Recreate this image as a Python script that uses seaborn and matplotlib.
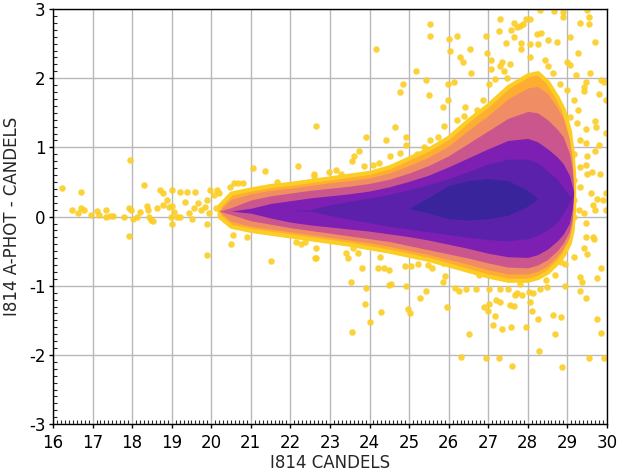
import numpy as np
import pandas as pd
import matplotlib
matplotlib.use("Agg")
import matplotlib.pyplot as plt
from matplotlib.ticker import MultipleLocator
from matplotlib.colors import to_rgb
import seaborn as sns

# ---------------- data ----------------
# density envelopes of the main cloud, per magnitude column (lower / upper)
band_mag = [20.2, 20.5, 21.0, 21.5, 22.0, 22.5, 23.0, 23.5, 24.0, 24.5, 25.0, 25.5,
            26.0, 26.5, 27.0, 27.5, 28.0, 28.25, 28.5, 28.75, 28.9, 29.05, 29.12, 29.16]
outer_lo = [0.00, -0.14, -0.20, -0.24, -0.28, -0.32, -0.36, -0.40, -0.45, -0.50, -0.56, -0.62,
            -0.70, -0.78, -0.86, -0.92, -0.92, -0.88, -0.80, -0.66, -0.55, -0.38, -0.20, 0.10]
outer_hi = [0.16, 0.34, 0.40, 0.45, 0.48, 0.52, 0.56, 0.60, 0.64, 0.72, 0.85, 0.98,
            1.15, 1.40, 1.62, 1.88, 2.05, 2.08, 1.95, 1.72, 1.55, 1.25, 0.95, 0.60]
mid_lo = [0.07, -0.07, -0.14, -0.18, -0.22, -0.26, -0.30, -0.34, -0.38, -0.43, -0.49, -0.55,
          -0.62, -0.69, -0.77, -0.83, -0.83, -0.79, -0.71, -0.57, -0.46, -0.30, -0.12, 0.20]
mid_hi = [0.09, 0.25, 0.33, 0.38, 0.41, 0.45, 0.49, 0.52, 0.56, 0.63, 0.74, 0.86,
          1.02, 1.25, 1.46, 1.70, 1.86, 1.88, 1.78, 1.57, 1.42, 1.13, 0.85, 0.50]
magenta_lo = [0.08, 0.03, -0.06, -0.11, -0.16, -0.20, -0.24, -0.28, -0.32, -0.36, -0.42, -0.48,
              -0.54, -0.60, -0.67, -0.73, -0.74, -0.70, -0.62, -0.49, -0.38, -0.22, -0.04, 0.30]
magenta_hi = [0.08, 0.13, 0.24, 0.30, 0.34, 0.38, 0.41, 0.44, 0.48, 0.54, 0.63, 0.74,
              0.88, 1.06, 1.24, 1.42, 1.52, 1.50, 1.40, 1.26, 1.15, 0.92, 0.70, 0.40]
purple_lo = [0.08, 0.08, 0.05, -0.02, -0.08, -0.12, -0.15, -0.18, -0.21, -0.25, -0.29, -0.34,
             -0.40, -0.46, -0.53, -0.58, -0.59, -0.55, -0.47, -0.35, -0.25, -0.10, 0.10, 0.35]
purple_hi = [0.08, 0.08, 0.12, 0.19, 0.23, 0.27, 0.30, 0.33, 0.37, 0.43, 0.51, 0.60,
             0.72, 0.85, 0.98, 1.10, 1.13, 1.08, 0.98, 0.86, 0.76, 0.60, 0.45, 0.35]
indigo_lo = [0.08, 0.08, 0.08, 0.08, 0.09, 0.08, 0.02, -0.04, -0.09, -0.14, -0.18, -0.22,
             -0.26, -0.30, -0.33, -0.35, -0.32, -0.27, -0.19, -0.08, 0.05, 0.20, 0.30, 0.35]
indigo_hi = [0.08, 0.08, 0.08, 0.08, 0.09, 0.10, 0.17, 0.22, 0.27, 0.32, 0.39, 0.46,
             0.55, 0.65, 0.76, 0.83, 0.83, 0.78, 0.66, 0.54, 0.42, 0.30, 0.30, 0.35]
core_lo = [0.08, 0.08, 0.08, 0.08, 0.09, 0.09, 0.10, 0.10, 0.10, 0.11, 0.12, 0.05,
           -0.03, -0.05, -0.03, 0.02, 0.15, 0.26, 0.26, 0.26, 0.26, 0.30, 0.30, 0.35]
core_hi = [0.08, 0.08, 0.08, 0.08, 0.09, 0.09, 0.10, 0.10, 0.10, 0.11, 0.12, 0.28,
           0.45, 0.52, 0.55, 0.52, 0.38, 0.26, 0.26, 0.26, 0.26, 0.30, 0.30, 0.35]

# sparse individual sources outside the dense cloud
outlier_mag = [
    16.22, 16.47, 16.63, 16.70, 16.70, 16.78, 16.97, 17.12, 17.17, 17.34, 17.34, 17.43, 17.51,
    17.79, 17.92, 17.94, 17.92, 17.98, 18.01, 18.13, 18.20, 18.30, 18.37, 18.39, 18.42, 18.47,
    18.52, 18.64, 18.70, 18.77, 18.77, 18.87, 18.92, 18.97, 19.00, 19.00, 19.00, 19.06, 19.14,
    19.22, 19.22, 19.34, 19.39, 19.44, 19.52, 19.56, 19.59, 19.66, 19.73, 19.83, 19.88, 19.88,
    19.94, 19.98, 20.07, 20.15, 20.20, 20.11, 20.47, 20.57, 20.67, 20.81, 21.05, 21.35, 21.67,
    22.19, 22.59, 20.55, 20.91, 19.89, 20.49, 21.50, 22.13, 22.26, 22.38, 22.63, 22.66,
    # lower right
    22.64, 23.40, 23.45, 23.58, 23.70, 23.82, 23.90, 23.89, 24.01, 24.28, 23.52, 23.55, 24.21,
    24.26, 24.36, 24.49, 24.49, 24.545, 24.93, 24.97, 25.03, 25.27, 25.42, 24.90, 25.05, 25.22,
    25.49, 25.57, 25.87, 25.92, 25.96, 25.86, 26.16, 26.26, 26.43, 26.51, 26.30, 26.68, 26.77,
    26.90, 26.94, 26.99, 27.02, 27.02, 27.12, 27.19, 27.17, 27.31, 27.34, 27.27, 27.29, 27.41,
    27.49, 27.56, 27.575, 27.59, 27.64, 27.68, 27.73, 27.81, 27.86, 27.95, 28.05, 28.03, 28.13,
    28.11, 28.265, 28.28, 28.32, 28.48, 28.45, 28.65, 28.70, 28.70, 28.85, 28.87, 28.94, 29.17,
    29.33, 29.31, 29.46, 29.38, 29.76, 29.85, 29.93, 29.54, 29.76, 29.86, 29.68, 29.46, 28.95,
    28.85, 29.41, 29.51,
    # upper right
    22.66, 24.16, 25.52, 25.52, 25.17, 24.85, 24.76, 25.44, 25.50, 26.01, 26.03, 26.21, 26.28,
    26.36, 26.53, 26.565, 25.98, 26.13, 25.86, 25.98, 26.94, 26.97, 27.07, 27.07, 27.31, 27.27,
    27.34, 27.39, 27.44, 27.58, 27.64, 27.74, 27.81, 27.88, 27.95, 28.05, 28.30, 27.83, 28.05,
    28.23, 28.33, 28.52, 28.75, 28.67, 28.90, 28.89, 29.31, 29.56, 29.56, 29.51, 29.70, 29.06,
    29.28, 28.99, 29.07, 29.85, 29.93, 29.98, 29.97, 29.81, 29.70, 29.73, 29.70, 29.81, 29.58,
    29.46, 29.41, 29.43, 29.46, 29.48, 29.51, 29.46, 29.49, 29.63, 29.83, 29.61, 29.97, 29.91,
    29.98, 29.66, 29.75, 29.70, 29.46, 29.66, 23.90, 24.41, 24.65, 24.92, 24.92, 24.76, 24.83,
    23.60, 23.74, 23.55, 23.85, 24.09, 24.24, 23.15, 22.98, 23.27, 22.59,
    27.64, 27.84, 28.06, 28.25, 28.43, 28.50, 28.65, 28.82, 28.99, 29.21, 29.16, 29.28, 29.07,
    28.99, 29.24, 29.33, 29.16, 29.33, 29.16, 29.33, 29.16, 29.29, 29.16, 29.41,
    27.17, 27.31, 27.47, 27.54, 27.02, 26.87, 26.72, 26.41, 26.38, 26.21, 25.89, 25.72, 25.52,
    25.37, 25.20, 25.03, 24.51, 24.56,
]
outlier_diff = [
    0.42, 0.10, 0.05, 0.35, 0.12, 0.10, 0.02, 0.08, 0.02, 0.10, 0.00, 0.01, 0.01,
    -0.01, 0.12, 0.82, -0.28, 0.09, -0.03, 0.00, 0.07, 0.46, 0.15, 0.10, 0.00, -0.05,
    -0.07, 0.13, 0.38, 0.34, 0.17, 0.24, 0.14, -0.01, 0.38, -0.10, 0.15, 0.07, 0.00,
    0.00, 0.35, 0.21, 0.35, 0.05, -0.03, 0.12, 0.35, 0.20, 0.09, 0.14, 0.24, -0.10,
    0.05, 0.38, 0.31, 0.38, 0.34, 0.12, 0.43, 0.49, 0.48, 0.49, 0.70, 0.66, 0.50,
    0.73, 0.58, -0.26, -0.30, -0.56, -0.39, -0.64, -0.37, -0.39, -0.37, -0.60, -0.45,
    # lower right
    -0.60, -0.52, -0.60, -0.46, -0.52, -0.74, -1.03, -1.27, -1.53, -1.38, -0.94, -1.67, -0.75,
    -0.59, -0.75, -0.77, -0.99, -0.97, -1.00, -1.34, -1.40, -1.18, -1.07, -0.71, -0.71, -0.68,
    -0.70, -0.75, -0.94, -0.86, -1.31, -0.67, -1.03, -1.07, -1.04, -1.70, -2.03, -1.05, -0.85,
    -1.31, -2.05, -1.36, -1.26, -1.04, -1.56, -1.21, -1.43, -1.23, -1.62, -2.04, -1.04, -0.89,
    -1.04, -1.28, -1.60, -2.16, -1.29, -1.13, -1.11, -0.98, -1.13, -1.60, -1.24, -1.09, -1.10,
    -1.36, -1.48, -1.94, -1.05, -1.02, -0.92, -1.42, -1.70, -0.84, -1.45, -2.17, -1.01, -0.58,
    -0.88, -1.08, -1.18, -0.94, -1.48, -1.68, -2.05, -2.05, -0.89, -0.75, -0.32, -0.30, -0.68,
    -0.65, -0.46, -0.54,
    # upper right
    1.31, 2.42, 2.79, 2.61, 2.11, 1.92, 1.80, 1.97, 1.76, 2.56, 2.40, 2.61, 2.30,
    2.24, 2.42, 2.08, 1.92, 1.94, 1.59, 1.68, 2.61, 2.37, 2.27, 2.13, 2.86, 2.68,
    2.24, 2.10, 2.51, 2.70, 2.80, 2.74, 2.76, 2.78, 2.85, 2.86, 2.98, 2.51, 2.50,
    2.64, 2.65, 2.55, 2.53, 2.97, 2.96, 2.88, 2.80, 2.89, 2.78, 2.98, 2.53, 2.60,
    2.37, 2.24, 2.19, 1.97, 1.94, 1.68, 1.21, 1.77, 1.38, 1.30, 0.95, 1.03, 2.07,
    1.95, 1.87, 1.82, 1.27, 1.06, 0.88, 0.74, 0.62, 0.64, 0.62, 0.34, 0.34, 0.24,
    0.10, 0.17, 0.26, 0.10, -0.09, -0.30, 1.15, 1.11, 1.29, 1.15, 1.03, 0.92, 0.78,
    0.88, 0.95, 0.81, 0.73, 0.75, 0.77, 0.68, 0.65, 0.62, 0.61,
    2.60, 2.42, 2.31, 2.50, 2.27, 2.18, 2.07, 1.92, 1.83, 2.04, 1.68, 1.54, 1.44,
    1.15, 1.35, 1.11, 0.91, 0.72, 0.53, 0.43, 0.24, 0.10, 0.00, 0.05,
    1.99, 2.17, 2.01, 2.21, 1.92, 1.68, 1.54, 1.58, 1.46, 1.40, 1.31, 1.15, 1.11,
    1.01, 0.91, 0.77, 0.87, 0.72,
]

x_ticks = [16, 17, 18, 19, 20, 21, 22, 23, 24, 25, 26, 27, 28, 29, 30]
y_ticks = [-3, -2, -1, 0, 1, 2, 3]

# ---------------- figure ----------------
sns.set_style("white")
plt.rcParams["font.family"] = ["DejaVu Sans"]
plt.rcParams["axes.unicode_minus"] = False

fig = plt.figure(figsize=(6.18, 4.75), dpi=100)
ax = fig.add_axes([0.0858, 0.107, 0.8962, 0.874])

cmap = plt.get_cmap("plasma")


def soft(v, w=0.12):
    r, g, b = to_rgb(cmap(v))
    return (r + (1 - r) * w, g + (1 - g) * w, b + (1 - b) * w)


pts = pd.DataFrame({"mag": outlier_mag, "diff": outlier_diff})
sns.scatterplot(data=pts, x="mag", y="diff", color=cmap(0.9), s=22, alpha=0.9,
                linewidth=0, ax=ax, zorder=2)

ax.fill_between(band_mag, outer_lo, outer_hi, facecolor=cmap(0.82),
                edgecolor=cmap(0.9), linewidth=3, zorder=3)
layers = [(mid_lo, mid_hi, 0.68), (magenta_lo, magenta_hi, 0.47),
          (purple_lo, purple_hi, 0.2), (indigo_lo, indigo_hi, 0.11),
          (core_lo, core_hi, 0.03)]
for lo, hi, c in layers:
    ax.fill_between(band_mag, lo, hi, color=soft(c), linewidth=0, zorder=3)

ax.set_xlim(16, 30)
ax.set_ylim(-3, 3)
ax.set_xticks(x_ticks)
ax.set_yticks(y_ticks)
ax.xaxis.set_minor_locator(MultipleLocator(0.1))
ax.yaxis.set_minor_locator(MultipleLocator(0.1))
ax.grid(True, which="major", color="#b8b8b8", linewidth=1)
ax.set_axisbelow(True)
ax.tick_params(which="major", direction="out", length=3, width=1, labelsize=12, pad=2.5,
               bottom=True, left=True, top=False, right=False, colors="black")
ax.tick_params(axis="x", which="major", pad=4)
ax.tick_params(which="minor", direction="in", length=3, width=0.8,
               bottom=True, left=True, top=False, right=False)
for s in ax.spines.values():
    s.set_color("black")
    s.set_linewidth(1)

ax.set_xlabel("I814 CANDELS", fontsize=12)
ax.set_ylabel("I814 A-PHOT - CANDELS", fontsize=12)
ax.xaxis.set_label_coords(0.5, -0.072)
ax.yaxis.set_label_coords(-0.058, 0.5)

fig.savefig("out.png", dpi=100)
